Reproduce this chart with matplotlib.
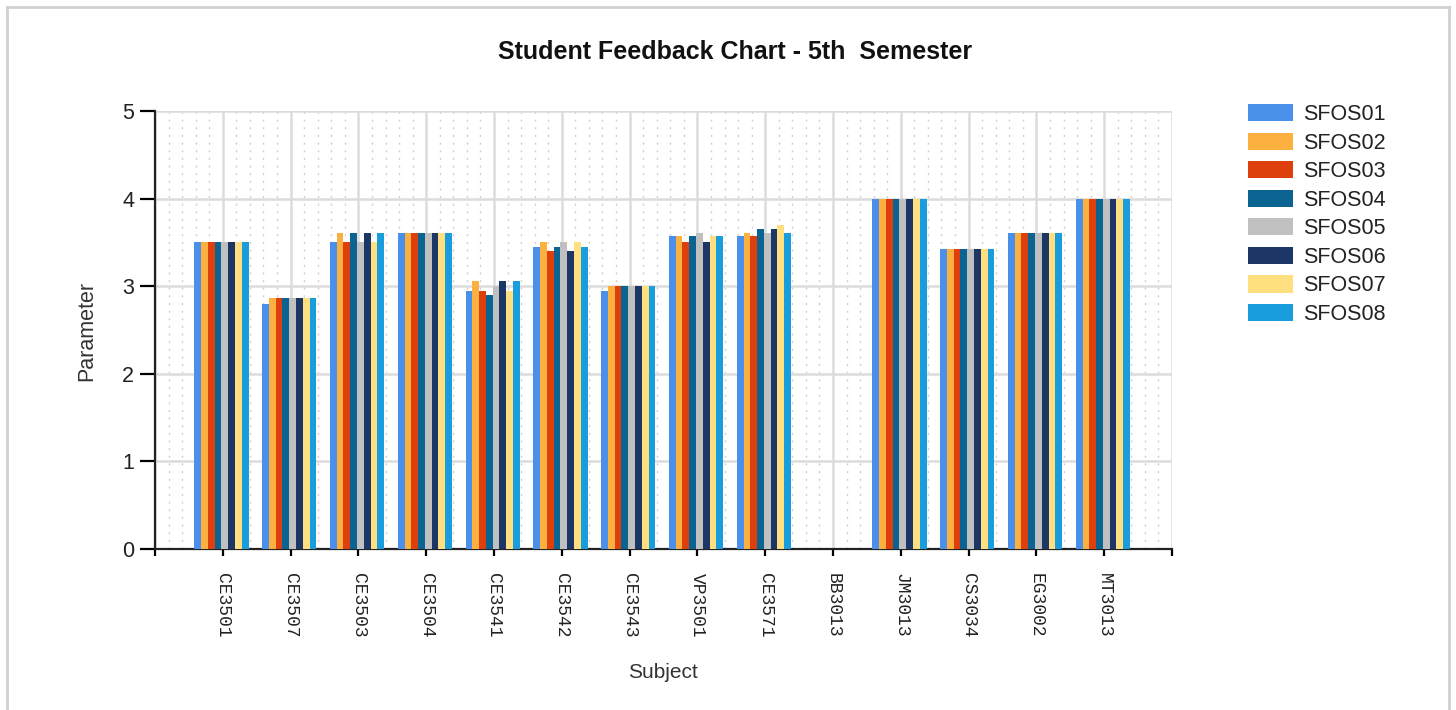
import matplotlib
matplotlib.use("Agg")
import matplotlib.pyplot as plt
import numpy as np
from matplotlib.lines import Line2D

subjects = ["CE3501", "CE3507", "CE3503", "CE3504", "CE3541", "CE3542", "CE3543",
            "VP3501", "CE3571", "BB3013", "JM3013", "CS3034", "EG3002", "MT3013"]
series_names = ["SFOS01", "SFOS02", "SFOS03", "SFOS04", "SFOS05", "SFOS06", "SFOS07", "SFOS08"]
colors = ["#4A8FEA", "#FBB040", "#DD400C", "#0A6390", "#C0C0C0", "#1C3665", "#FFDF80", "#199DDD"]

sfos01 = [3.50, 2.80, 3.50, 3.61, 2.95, 3.45, 2.95, 3.57, 3.57, 0, 4.0, 3.43, 3.61, 4.0]
sfos02 = [3.50, 2.86, 3.61, 3.61, 3.06, 3.50, 3.00, 3.57, 3.61, 0, 4.0, 3.43, 3.61, 4.0]
sfos03 = [3.50, 2.86, 3.50, 3.61, 2.95, 3.40, 3.00, 3.50, 3.57, 0, 4.0, 3.43, 3.61, 4.0]
sfos04 = [3.50, 2.86, 3.61, 3.61, 2.90, 3.45, 3.00, 3.57, 3.65, 0, 4.0, 3.43, 3.61, 4.0]
sfos05 = [3.50, 2.86, 3.50, 3.61, 3.00, 3.50, 3.00, 3.61, 3.61, 0, 4.0, 3.43, 3.61, 4.0]
sfos06 = [3.50, 2.86, 3.61, 3.61, 3.06, 3.40, 3.00, 3.50, 3.65, 0, 4.0, 3.43, 3.61, 4.0]
sfos07 = [3.50, 2.86, 3.50, 3.61, 2.95, 3.50, 3.00, 3.57, 3.70, 0, 4.0, 3.43, 3.61, 4.0]
sfos08 = [3.50, 2.86, 3.61, 3.61, 3.06, 3.45, 3.00, 3.57, 3.61, 0, 4.0, 3.43, 3.61, 4.0]
series = [sfos01, sfos02, sfos03, sfos04, sfos05, sfos06, sfos07, sfos08]

W, H = 1456, 710
fig = plt.figure(figsize=(W / 100, H / 100), dpi=100)
ax = fig.add_axes([155 / W, 1 - 549 / H, (1172 - 155) / W, (549 - 111) / H])

x = np.arange(len(subjects))
bw = 0.1
n = len(series)
for i, (vals, name, c) in enumerate(zip(series, series_names, colors)):
    ax.bar(x + (i - (n - 1) / 2) * bw - 0.02, vals, width=bw, color=c, label=name,
           linewidth=0, zorder=3)

ax.set_xlim(-1, len(subjects))
ax.set_ylim(0, 5)

# ticks
ax.set_xticks(np.arange(-1, len(subjects) + 1))
ax.set_xticklabels([""] + subjects + [""], rotation=-90, family="Liberation Mono",
                   fontsize=13, color="#222222")
ax.set_xticks(np.arange(-1, len(subjects), 0.2), minor=True)
ax.set_yticks(range(0, 6))
ax.tick_params(axis="y", which="major", length=11, width=1.6, labelsize=15.5,
               direction="out", pad=4, labelcolor="#222222")
ax.tick_params(axis="x", which="major", length=5, width=1.6, direction="out", pad=12)
ax.tick_params(axis="x", which="minor", length=0)
for lab in ax.get_yticklabels():
    lab.set_family("Liberation Sans")

# grid
ax.grid(axis="y", which="major", color="#DCDCDC", linewidth=1.8, zorder=0)
ax.grid(axis="x", which="major", color="#DCDCDC", linewidth=1.8, zorder=0)
ax.grid(axis="x", which="minor", color="#D0D0D0", linewidth=1.0, linestyle=(0, (1.5, 4)), zorder=0)
ax.set_axisbelow(True)

for s in ["top", "right"]:
    ax.spines[s].set_visible(False)
ax.spines["left"].set_linewidth(1.6)
ax.spines["bottom"].set_linewidth(1.6)
ax.spines["left"].set_color("#222222")
ax.spines["bottom"].set_color("#222222")

# labels
fig.text(663 / W, 1 - 673 / H, "Subject", ha="center", va="center",
         family="Liberation Sans", fontsize=15, color="#333333")
fig.text(87 / W, 1 - 331 / H, "Parameter", ha="center", va="center", rotation=90,
         family="Liberation Sans", fontsize=15.5, color="#333333")
fig.text(735 / W, 1 - 52 / H, "Student Feedback Chart - 5th  Semester", ha="center",
         va="center", family="Liberation Sans", fontweight="bold", fontsize=18,
         color="#111111")

# legend
leg = fig.legend(loc="upper left", bbox_to_anchor=(1248 / W, 1 - 104 / H),
                 frameon=False, prop={"family": "Liberation Sans", "size": 15.5},
                 handlelength=2.1, handleheight=0.85, handletextpad=0.45,
                 labelspacing=0.35, borderpad=0, borderaxespad=0)
for t in leg.get_texts():
    t.set_color("#222222")

# outer frame
lc = "#D0D0D0"
fig.add_artist(Line2D([7 / W, 7 / W], [0, 1 - 7 / H], transform=fig.transFigure, color=lc, lw=2))
fig.add_artist(Line2D([7 / W, 1449 / W], [1 - 7 / H, 1 - 7 / H], transform=fig.transFigure, color=lc, lw=2))
fig.add_artist(Line2D([1449 / W, 1449 / W], [0, 1 - 7 / H], transform=fig.transFigure, color=lc, lw=2))

fig.savefig("out.png", dpi=100)
